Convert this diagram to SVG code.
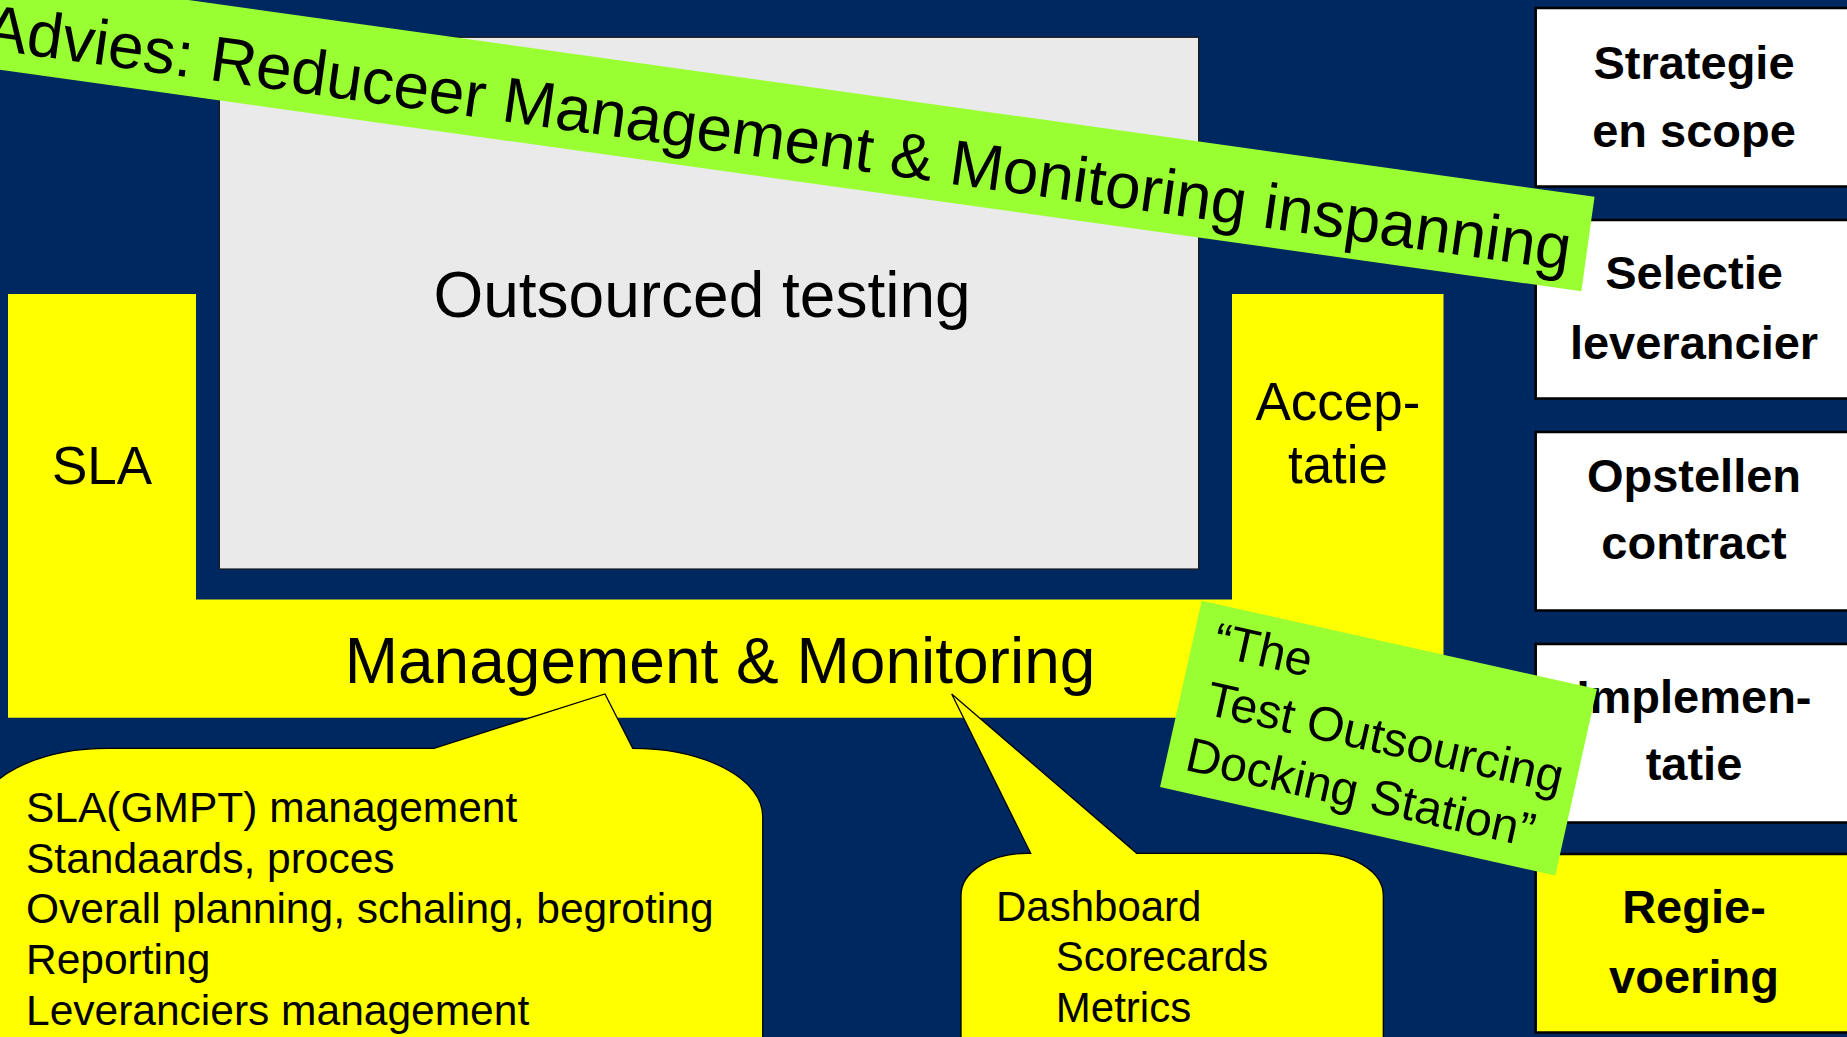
<svg xmlns="http://www.w3.org/2000/svg" width="1847" height="1037" viewBox="0 0 1847 1037">
  <defs>
    <style>
      .t { font-family: "Liberation Sans", Arial, sans-serif; fill: #000; }
      .b { font-weight: bold; }
      .step { fill: #FFFFFF; stroke: #000; stroke-width: 2.5; }
      .yel { fill: #FFFF00; }
      .bubble { fill: #FFFF00; stroke: #000; stroke-width: 1.3; stroke-linejoin: miter; }
      .green { fill: #99FF33; }
    </style>
  </defs>

  <rect id="background" x="0" y="0" width="1847" height="1037" fill="#002860"/>

  <g id="outsourced-testing">
    <rect x="219.4" y="37.3" width="979.2" height="531.7" fill="#EAEAEA" stroke="#1a1a1a" stroke-width="1.2"/>
    <text class="t" x="702" y="317" font-size="64" text-anchor="middle">Outsourced testing</text>
  </g>

  <g id="management-frame">
    <path class="yel" d="M8,294 L196,294 L196,599.5 L1232,599.5 L1232,294 L1443.5,294 L1443.5,717.7 L8,717.7 Z"/>
  </g>
  <g id="sla">
    <text class="t" x="102" y="484" font-size="53" text-anchor="middle">SLA</text>
  </g>
  <g id="acceptatie">
    <text class="t" x="1338" y="420" font-size="53" text-anchor="middle">Accep-</text>
    <text class="t" x="1338" y="483" font-size="53" text-anchor="middle">tatie</text>
  </g>
  <g id="management-monitoring">
    <text class="t" x="720" y="683" font-size="64" text-anchor="middle">Management &amp; Monitoring</text>
  </g>

  <g id="step-strategie">
    <rect class="step" x="1535.7" y="8" width="330" height="178.5"/>
    <text class="t b" x="1694" y="79" font-size="47" text-anchor="middle">Strategie</text>
    <text class="t b" x="1694" y="147" font-size="47" text-anchor="middle">en scope</text>
  </g>
  <g id="step-selectie">
    <rect class="step" x="1535.7" y="220" width="330" height="178.5"/>
    <text class="t b" x="1694" y="289" font-size="47" text-anchor="middle">Selectie</text>
    <text class="t b" x="1694" y="359" font-size="47" text-anchor="middle">leverancier</text>
  </g>
  <g id="step-contract">
    <rect class="step" x="1535.7" y="432" width="330" height="178.5"/>
    <text class="t b" x="1694" y="492" font-size="47" text-anchor="middle">Opstellen</text>
    <text class="t b" x="1694" y="559" font-size="47" text-anchor="middle">contract</text>
  </g>
  <g id="step-implementatie">
    <rect class="step" x="1535.7" y="644" width="330" height="178.5"/>
    <text class="t b" x="1694" y="713" font-size="47" text-anchor="middle">Implemen-</text>
    <text class="t b" x="1694" y="780" font-size="47" text-anchor="middle">tatie</text>
  </g>
  <g id="step-regievoering">
    <rect class="step" x="1535.7" y="854" width="330" height="178.5" style="fill:#FFFF00"/>
    <text class="t b" x="1694" y="923" font-size="47" text-anchor="middle">Regie-</text>
    <text class="t b" x="1694" y="993" font-size="47" text-anchor="middle">voering</text>
  </g>

  <g id="connectors">
    <path id="callout-mm-tasks" class="bubble" d="M-22,1100 L-22,816.3 A130,68 0 0 1 108,748.3 L434,748.3 L605,694 L632.7,748.3 A130,68 0 0 1 762.7,816.3 L762.7,1100 Z"/>
    <path id="callout-dashboard" class="bubble" d="M961,1100 L961,895.3 A66,42 0 0 1 1027,853.3 L1030.7,853.3 L951.7,694 L1136.7,853.3 L1317.3,853.3 A66,42 0 0 1 1383.3,895.3 L1383.3,1100 Z"/>
  </g>

  <g id="mm-tasks">
    <text class="t" x="26" font-size="42.5">
      <tspan x="26" y="821.7">SLA(GMPT) management</tspan>
      <tspan x="26" y="872.5">Standaards, proces</tspan>
      <tspan x="26" y="923.3">Overall planning, schaling, begroting</tspan>
      <tspan x="26" y="974.1">Reporting</tspan>
      <tspan x="26" y="1024.9">Leveranciers management</tspan>
    </text>
  </g>
  <g id="dashboard">
    <text class="t" font-size="42">
      <tspan x="996" y="920.7">Dashboard</tspan>
      <tspan x="1055.8" y="971.2">Scorecards</tspan>
      <tspan x="1055.8" y="1021.7">Metrics</tspan>
    </text>
  </g>

  <g id="advies-banner" transform="translate(0,-26.4) rotate(7.97)">
    <rect class="green" x="-300" y="0" width="1910.1" height="95.2"/>
    <text class="t" x="-7" y="76.4" font-size="64">Advies: Reduceer Management &amp; Monitoring inspanning</text>
  </g>

  <g id="docking-station" transform="translate(1201.7,600.7) rotate(12.6)">
    <rect class="green" x="0" y="0" width="405" height="191"/>
    <text class="t" font-size="48.5">
      <tspan x="21" y="51">“The</tspan>
      <tspan x="27" y="110">Test Outsourcing</tspan>
      <tspan x="19" y="169">Docking Station”</tspan>
    </text>
  </g>
</svg>
